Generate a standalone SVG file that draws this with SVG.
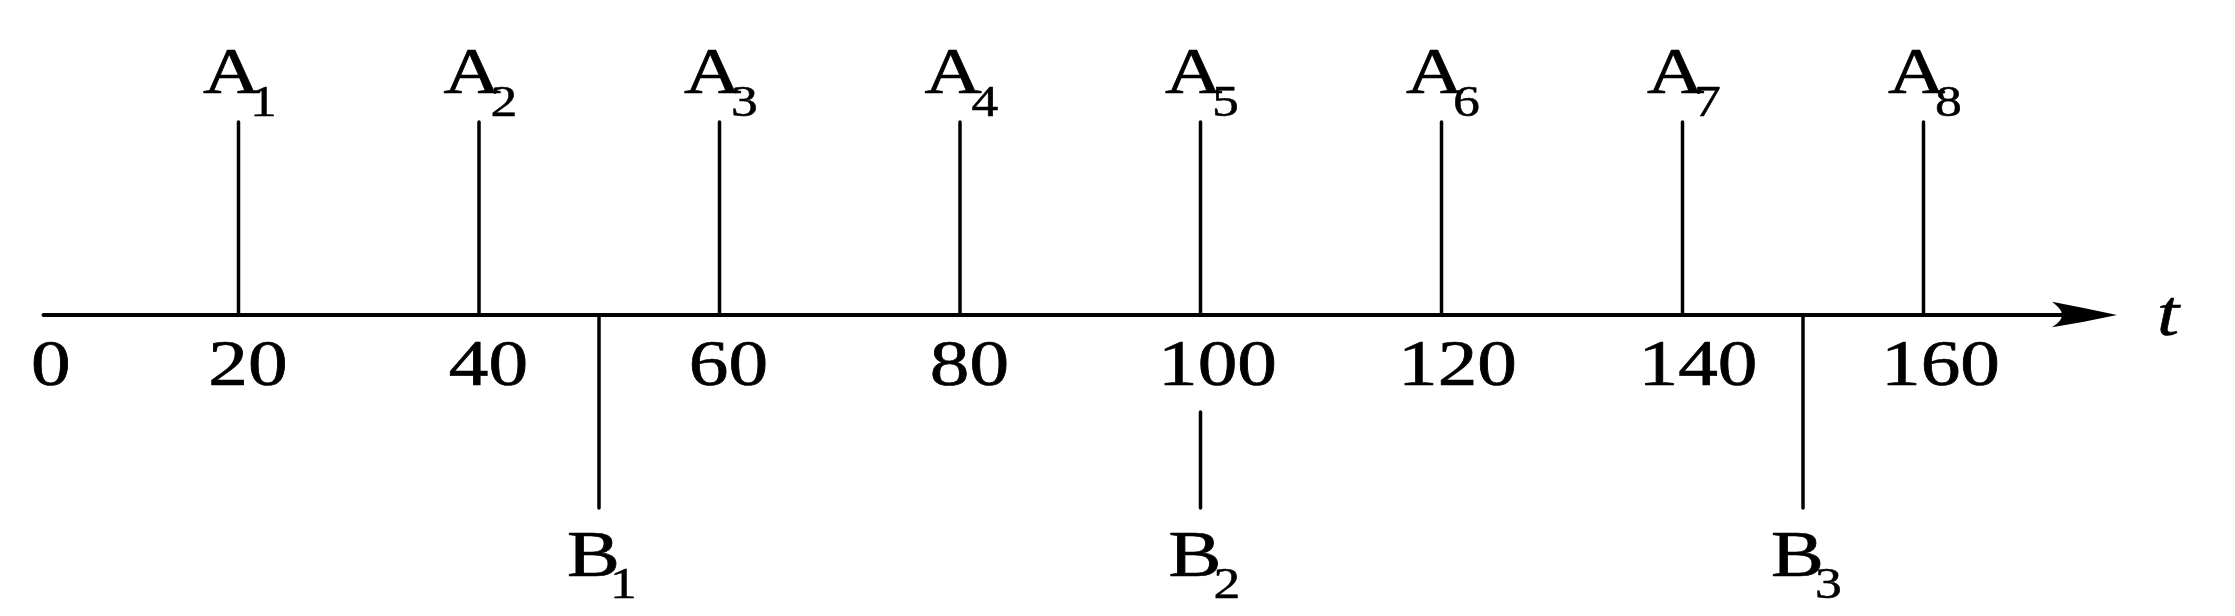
<svg xmlns="http://www.w3.org/2000/svg" width="2235" height="616" viewBox="0 0 2235 616">
<style>
.ln{stroke:#000;stroke-width:3.5;stroke-linecap:round;fill:none}
.ax{stroke:#000;stroke-width:4;stroke-linecap:round;fill:none}
.lab{font-family:"Liberation Serif","Times New Roman",serif;font-size:65px;fill:#000;stroke:#000;stroke-width:0.7}
.sub{font-family:"Liberation Serif","Times New Roman",serif;font-size:44px;fill:#000;stroke:#000;stroke-width:0.5}
.num{font-family:"Liberation Serif","Times New Roman",serif;font-size:65px;fill:#000;text-anchor:middle;stroke:#000;stroke-width:0.7}
.it{font-family:"Liberation Serif","Times New Roman",serif;font-size:65px;font-style:italic;fill:#000;stroke:#000;stroke-width:0.6}
</style>
<rect width="2235" height="616" fill="#fff"/>
<g id="connectors">
<line class="ax" x1="43.5" y1="315" x2="2090" y2="315"/>
<path d="M2117,315 Q2085,308 2052,301.7 Q2064,311 2061,315 Q2064,319 2052,327.3 Q2085,322 2117,315 Z" fill="#000"/>
</g>
<g id="axis-labels">
<text class="num" transform="translate(50.8,385) scale(1.22,1)">0</text>
<text class="num" transform="translate(248,385) scale(1.22,1)">20</text>
<text class="num" transform="translate(488.5,385) scale(1.22,1)">40</text>
<text class="num" transform="translate(728.5,385) scale(1.22,1)">60</text>
<text class="num" transform="translate(969.5,385) scale(1.22,1)">80</text>
<text class="num" transform="translate(1217.5,385) scale(1.22,1)">100</text>
<text class="num" transform="translate(1457.5,385) scale(1.22,1)">120</text>
<text class="num" transform="translate(1698,385) scale(1.22,1)">140</text>
<text class="num" transform="translate(1940.5,385) scale(1.22,1)">160</text>
<text class="it" transform="translate(2157,335) scale(1.22,1)">t</text>
</g>
<g id="A1"><line class="ln" x1="238.5" y1="122" x2="238.5" y2="315"/><text class="lab" transform="translate(203,93.3) scale(1.22,1)">A</text><text class="sub" transform="translate(250,116) scale(1.22,1)">1</text></g>
<g id="A2"><line class="ln" x1="479" y1="122" x2="479" y2="315"/><text class="lab" transform="translate(443.5,93.3) scale(1.22,1)">A</text><text class="sub" transform="translate(490.5,116) scale(1.22,1)">2</text></g>
<g id="A3"><line class="ln" x1="719.5" y1="122" x2="719.5" y2="315"/><text class="lab" transform="translate(684,93.3) scale(1.22,1)">A</text><text class="sub" transform="translate(731,116) scale(1.22,1)">3</text></g>
<g id="A4"><line class="ln" x1="960" y1="122" x2="960" y2="315"/><text class="lab" transform="translate(924.5,93.3) scale(1.22,1)">A</text><text class="sub" transform="translate(971.5,116) scale(1.22,1)">4</text></g>
<g id="A5"><line class="ln" x1="1200.5" y1="122" x2="1200.5" y2="315"/><text class="lab" transform="translate(1165,93.3) scale(1.22,1)">A</text><text class="sub" transform="translate(1212,116) scale(1.22,1)">5</text></g>
<g id="A6"><line class="ln" x1="1441.5" y1="122" x2="1441.5" y2="315"/><text class="lab" transform="translate(1406,93.3) scale(1.22,1)">A</text><text class="sub" transform="translate(1453,116) scale(1.22,1)">6</text></g>
<g id="A7"><line class="ln" x1="1682.5" y1="122" x2="1682.5" y2="315"/><text class="lab" transform="translate(1647,93.3) scale(1.22,1)">A</text><text class="sub" transform="translate(1694,116) scale(1.22,1)">7</text></g>
<g id="A8"><line class="ln" x1="1923.5" y1="122" x2="1923.5" y2="315"/><text class="lab" transform="translate(1888,93.3) scale(1.22,1)">A</text><text class="sub" transform="translate(1935,116) scale(1.22,1)">8</text></g>
<g id="B1"><line class="ln" x1="599" y1="315" x2="599" y2="508"/><text class="lab" transform="translate(567,575.5) scale(1.22,1)">B</text><text class="sub" transform="translate(610,598) scale(1.22,1)">1</text></g>
<g id="B2"><line class="ln" x1="1200.5" y1="412" x2="1200.5" y2="508"/><text class="lab" transform="translate(1168.5,575.5) scale(1.22,1)">B</text><text class="sub" transform="translate(1213.5,598) scale(1.22,1)">2</text></g>
<g id="B3"><line class="ln" x1="1803" y1="315" x2="1803" y2="508"/><text class="lab" transform="translate(1771,575.5) scale(1.22,1)">B</text><text class="sub" transform="translate(1815,598) scale(1.22,1)">3</text></g>
</svg>
